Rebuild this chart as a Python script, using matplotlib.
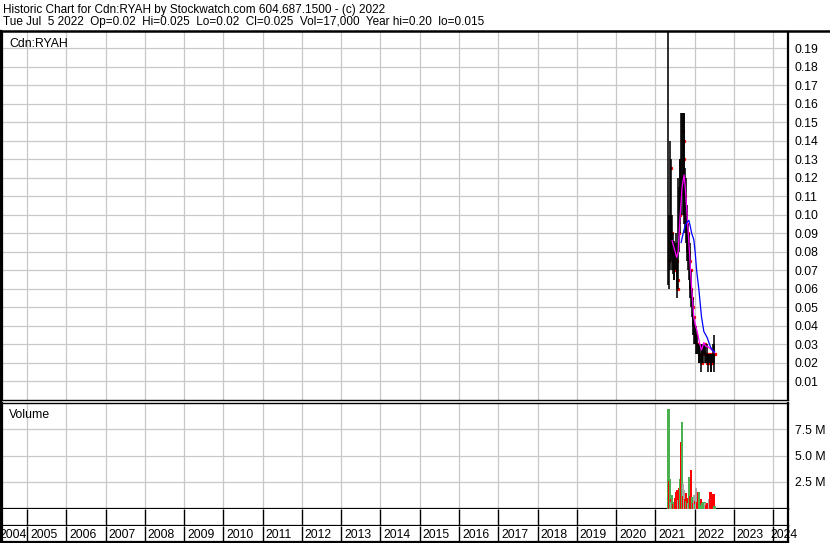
import matplotlib
matplotlib.use("Agg")
import matplotlib.pyplot as plt
from matplotlib.lines import Line2D
import numpy as np
import pandas as pd

plt.rcParams['font.family'] = ['Liberation Sans', 'DejaVu Sans']

# ---------------- data ----------------
title_line1 = "Historic Chart for Cdn:RYAH by Stockwatch.com 604.687.1500 - (c) 2022"
title_line2 = "Tue Jul  5 2022  Op=0.02  Hi=0.025  Lo=0.02  Cl=0.025  Vol=17,000  Year hi=0.20  lo=0.015"
symbol = "Cdn:RYAH"

week_start = "2021-05-03"
n_weeks = 62

highs = [0.25, 0.10, 0.14, 0.13, 0.10, 0.10, 0.09, 0.086, 0.085, 0.085,
         0.09, 0.085, 0.075, 0.12, 0.115, 0.13, 0.13, 0.155, 0.155, 0.155,
         0.155, 0.155, 0.125, 0.12, 0.105, 0.10, 0.095, 0.09, 0.085, 0.08,
         0.07, 0.06, 0.055, 0.05, 0.045, 0.04, 0.04, 0.035, 0.035, 0.03,
         0.03, 0.03, 0.03, 0.025, 0.03, 0.03, 0.03, 0.03, 0.03, 0.03,
         0.025, 0.03, 0.025, 0.025, 0.025, 0.025, 0.025, 0.025, 0.025, 0.03,
         0.035, 0.03]
lows = [0.062, 0.06, 0.07, 0.08, 0.075, 0.07, 0.068, 0.065, 0.065, 0.07,
        0.07, 0.06, 0.055, 0.06, 0.08, 0.09, 0.095, 0.10, 0.11, 0.10,
        0.10, 0.095, 0.09, 0.085, 0.08, 0.075, 0.07, 0.065, 0.06, 0.055,
        0.05, 0.045, 0.04, 0.035, 0.03, 0.03, 0.03, 0.025, 0.025, 0.025,
        0.02, 0.02, 0.02, 0.015, 0.02, 0.02, 0.02, 0.025, 0.025, 0.02,
        0.02, 0.02, 0.02, 0.015, 0.02, 0.02, 0.015, 0.015, 0.02, 0.02,
        0.015, 0.02]
closes = [0.075, 0.085, 0.125, 0.09, 0.08, 0.075, 0.072, 0.07, 0.078, 0.08,
          0.075, 0.065, 0.06, 0.09, 0.10, 0.115, 0.12, 0.14, 0.145, 0.13,
          0.14, 0.11, 0.10, 0.095, 0.09, 0.085, 0.08, 0.075, 0.07, 0.06,
          0.055, 0.05, 0.045, 0.04, 0.035, 0.035, 0.03, 0.03, 0.03, 0.025,
          0.025, 0.025, 0.025, 0.02, 0.025, 0.025, 0.03, 0.03, 0.025, 0.025,
          0.02, 0.025, 0.02, 0.02, 0.025, 0.02, 0.02, 0.02, 0.025, 0.025,
          0.025, 0.025]
volumes_m = [9.4, 2.6, 2.8, 0.9, 0.6, 1.3, 0.4, 0.3, 0.6, 1.0,
             1.6, 1.2, 1.7, 0.8, 1.9, 2.6, 2.8, 6.3, 8.2, 2.3,
             1.2, 1.7, 0.9, 1.5, 0.7, 1.0, 0.5, 1.0, 3.0, 1.2,
             3.65, 0.8, 1.1, 0.5, 1.3, 0.7, 0.4, 1.9, 0.6, 1.6,
             0.5, 1.55, 0.9, 0.9, 0.3, 0.5, 0.6, 0.4, 0.6, 0.5,
             0.3, 0.5, 0.5, 0.3, 0.9, 0.4, 1.55, 1.4, 1.3, 1.4,
             1.35, 0.2]
volume_dir = ['g', 'r', 'g', 'r', 'k', 'g', 'r', 'k', 'g', 'r',
              'r', 'g', 'r', 'k', 'r', 'g', 'g', 'r', 'g', 'k',
              'r', 'k', 'r', 'r', 'g', 'r', 'k', 'r', 'g', 'r',
              'r', 'r', 'g', 'r', 'k', 'r', 'g', 'k', 'r', 'r',
              'r', 'g', 'g', 'r', 'g', 'g', 'g', 'r', 'g', 'k',
              'r', 'g', 'r', 'r', 'k', 'r', 'r', 'r', 'r', 'r',
              'r', 'g']

ma_short_dates = ["2021-06-06", "2021-06-25", "2021-07-18", "2021-08-01", "2021-08-20",
                  "2021-09-07", "2021-09-26", "2021-10-10", "2021-10-24", "2021-11-09",
                  "2021-11-24", "2021-12-05", "2021-12-25", "2022-01-11", "2022-01-25",
                  "2022-02-15", "2022-03-06", "2022-03-28", "2022-04-14", "2022-04-28",
                  "2022-05-21", "2022-06-13", "2022-07-05"]
ma_short = [0.086, 0.082, 0.077, 0.080, 0.100,
            0.115, 0.1215, 0.112, 0.099, 0.085,
            0.070, 0.060, 0.0445, 0.040, 0.037,
            0.031, 0.027, 0.031, 0.029, 0.029,
            0.028, 0.027, 0.0255]

ma_long_dates = ["2021-08-29", "2021-09-17", "2021-10-05", "2021-10-24", "2021-11-09",
                 "2021-11-21", "2021-12-05", "2021-12-25", "2022-01-06", "2022-01-20",
                 "2022-02-10", "2022-03-06", "2022-03-28", "2022-04-28", "2022-05-26",
                 "2022-06-13", "2022-07-05"]
ma_long = [0.085, 0.090, 0.094, 0.096, 0.097,
           0.094, 0.090, 0.0865, 0.080, 0.070,
           0.0595, 0.045, 0.037, 0.0337, 0.029,
           0.027, 0.026]

years = list(range(2004, 2025))
price_ticks = [0.01, 0.02, 0.03, 0.04, 0.05, 0.06, 0.07, 0.08, 0.09, 0.10,
               0.11, 0.12, 0.13, 0.14, 0.15, 0.16, 0.17, 0.18, 0.19]
volume_ticks_m = [2.5, 5.0, 7.5]
volume_tick_labels = ["2.5 M", "5.0 M", "7.5 M"]

# ---------------- helpers ----------------
W, H = 830, 543
fig = plt.figure(figsize=(W / 100, H / 100), dpi=100)
fig.patch.set_facecolor('white')

def dec_year(d):
    d = pd.Timestamp(d)
    s = pd.Timestamp(year=d.year, month=1, day=1)
    e = pd.Timestamp(year=d.year + 1, month=1, day=1)
    return d.year + (d - s) / (e - s)

def axes_px(x0, y0, x1, y1):
    return fig.add_axes([x0 / W, 1 - y1 / H, (x1 - x0) / W, (y1 - y0) / H])

PX_PER_YEAR = 39.27
X_LEFT, X_RIGHT = 2, 788
XMIN = 2005 - (27 - X_LEFT) / PX_PER_YEAR
XMAX = 2005 + (X_RIGHT - 27) / PX_PER_YEAR

week_dates = pd.date_range(week_start, periods=n_weeks, freq='7D')
wx = np.array([dec_year(d) for d in week_dates])
msx = np.array([dec_year(d) for d in ma_short_dates])
mlx = np.array([dec_year(d) for d in ma_long_dates])

GRID = '#c8c8c8'
FS = 8.8
tick_years = [y for y in years if y >= 2005]

# ---------------- price panel ----------------
axp = axes_px(X_LEFT, 32, X_RIGHT, 400)
axp.set_xlim(XMIN, XMAX)
axp.set_ylim(0, (400.5 - 32) / 1855.0)
axp.set_xticks(tick_years)
axp.set_yticks(price_ticks)
axp.set_yticklabels(["%.2f" % v for v in price_ticks])
axp.grid(True, color=GRID, lw=0.9)
axp.set_axisbelow(True)
axp.tick_params(axis='x', length=0, labelbottom=False)
axp.tick_params(axis='y', length=0, left=False, labelleft=False,
                right=True, labelright=True, pad=5, labelsize=FS)
for s in axp.spines.values():
    s.set_color('black')
axp.spines['right'].set_linewidth(1.6)
axp.spines['left'].set_linewidth(1.6)
axp.spines['bottom'].set_linewidth(1.0)
axp.spines['top'].set_visible(False)

axp.plot(wx + 0.025, closes, ls='none', marker='s', ms=1.3, color='red', zorder=2)
axp.vlines(wx, lows, highs, color='black', lw=1.15, zorder=3)
axp.plot(msx, ma_short, color='#ff00ff', lw=0.9, zorder=4)
axp.plot(mlx, ma_long, color='#0000ff', lw=0.9, zorder=4)
axp.text(9 / (X_RIGHT - X_LEFT) - 0.002, 1 - (46.7 - 32) / 368, symbol,
         transform=axp.transAxes, fontsize=FS, va='baseline', ha='left')

# ---------------- volume panel ----------------
axv = axes_px(X_LEFT, 402.5, X_RIGHT, 508.5)
axv.set_xlim(XMIN, XMAX)
axv.set_ylim(0, 10.0)
axv.set_xticks(tick_years)
axv.set_yticks(volume_ticks_m)
axv.set_yticklabels(volume_tick_labels)
axv.grid(True, color=GRID, lw=0.9)
axv.set_axisbelow(True)
axv.tick_params(axis='x', length=0, labelbottom=False)
axv.tick_params(axis='y', length=0, left=False, labelleft=False,
                right=True, labelright=True, pad=5, labelsize=FS)
for s in axv.spines.values():
    s.set_color('black')
axv.spines['right'].set_linewidth(1.6)
axv.spines['left'].set_linewidth(1.6)
axv.spines['top'].set_linewidth(1.0)
axv.spines['bottom'].set_linewidth(1.6)
cmap = {'g': '#4cb050', 'r': '#ff0000', 'k': '#a8a8a8'}
axv.bar(wx, volumes_m, width=0.058, color=[cmap[c] for c in volume_dir],
        linewidth=0, zorder=3, antialiased=False)
axv.text(9 / (X_RIGHT - X_LEFT) - 0.002, 1 - (418.3 - 402.5) / 106, "Volume",
         transform=axv.transAxes, fontsize=FS, va='baseline', ha='left')

# ---------------- tick strip ----------------
axs = axes_px(X_LEFT, 509, X_RIGHT, 526)
axs.set_xlim(XMIN, XMAX)
axs.set_ylim(0, 1)
axs.set_xticks([]); axs.set_yticks([])
axs.vlines(tick_years, 0, 1, color='black', lw=1.0)
for s in axs.spines.values():
    s.set_color('black')
axs.spines['top'].set_visible(False)
axs.spines['bottom'].set_linewidth(1.6)
axs.spines['left'].set_linewidth(1.6)
axs.spines['right'].set_linewidth(1.6)

# ---------------- year label row ----------------
axl = axes_px(X_LEFT, 526, X_RIGHT, 541.5)
axl.set_xlim(XMIN, XMAX)
axl.set_ylim(0, 1)
axl.set_xticks([]); axl.set_yticks([])
axl.vlines(tick_years, 0, 1, color='black', lw=1.0)
for s in axl.spines.values():
    s.set_color('black')
    s.set_linewidth(1.6)
axl.spines['top'].set_visible(False)
for y in years:
    if y == 2004:
        axl.text(2005 - 0.5 / PX_PER_YEAR, 0.45, str(y), ha='right', va='center',
                 fontsize=FS, clip_on=False)
    elif y == 2024:
        axl.text(y - 3.0 / PX_PER_YEAR, 0.45, str(y), ha='left', va='center',
                 fontsize=FS, clip_on=False)
    else:
        axl.text(y + 3.0 / PX_PER_YEAR, 0.45, str(y), ha='left', va='center',
                 fontsize=FS, clip_on=False)

# ---------------- header ----------------
fig.text(3 / W, 1 - 12.5 / H, title_line1, fontsize=8.45, va='baseline', ha='left')
fig.text(3 / W, 1 - 25.5 / H, title_line2, fontsize=8.45, va='baseline', ha='left')
fig.add_artist(Line2D([0, 1], [1 - 31 / H, 1 - 31 / H], transform=fig.transFigure,
                      color='black', lw=1.8))
fig.add_artist(Line2D([1 / W, 1 / W], [1 - 31 / H, 1 - 541.5 / H],
                      transform=fig.transFigure, color='black', lw=1.6))

fig.savefig("out.png", dpi=100)
